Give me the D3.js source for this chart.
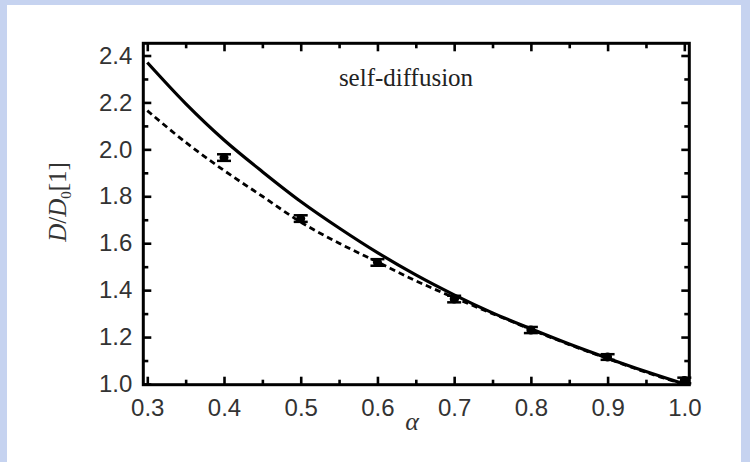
<!DOCTYPE html>
<html><head><meta charset="utf-8">
<script src="https://cdn.jsdelivr.net/npm/d3@7"></script>
<style>html,body{margin:0;padding:0;background:#c4d2f0;}svg{display:block;}</style>
</head><body>
<svg id="chart" width="750" height="462"></svg>
<script>
// Data
const alphaPts = [0.4, 0.5, 0.6, 0.7, 0.8, 0.9, 1.0];
const simValues = [1.965, 1.705, 1.518, 1.362, 1.230, 1.115, 1.015];
const simErrors = [0.014, 0.014, 0.014, 0.014, 0.013, 0.012, 0.012];
const curveAlpha = [0.30, 0.35, 0.40, 0.45, 0.50, 0.55, 0.60, 0.65, 0.70, 0.75, 0.80, 0.85, 0.90, 0.95, 1.00];
const solidValues = [2.370, 2.195, 2.040, 1.905, 1.778, 1.665, 1.560, 1.465, 1.380, 1.303, 1.235, 1.170, 1.110, 1.053, 1.000];
const dashedValues = [2.165, 2.030, 1.910, 1.800, 1.690, 1.600, 1.520, 1.440, 1.368, 1.300, 1.233, 1.168, 1.108, 1.050, 0.998];
const xTicks = [0.3, 0.4, 0.5, 0.6, 0.7, 0.8, 0.9, 1.0];
const yTicks = [1.0, 1.2, 1.4, 1.6, 1.8, 2.0, 2.2, 2.4];
const xMinor = [0.35, 0.45, 0.55, 0.65, 0.75, 0.85, 0.95];
const yMinor = [1.1, 1.3, 1.5, 1.7, 1.9, 2.1, 2.3];

const svg = d3.select("#chart");
// background
svg.append("rect").attr("x",0).attr("y",0).attr("width",750).attr("height",462).attr("fill","#c6d3f0");
svg.append("rect").attr("x",7).attr("y",5).attr("width",734).attr("height",457).attr("fill","#ffffff");

const x = d3.scaleLinear().domain([0.2948, 1.0065]).range([143.3, 689.3]);
const y = d3.scaleLinear().domain([0.997, 2.452]).range([384.7, 43.3]);
const L = x.range()[0], R = x.range()[1], T = y.range()[1], B = y.range()[0];

const tickFmt = d3.format(".1f");
// bottom axis
svg.append("g").attr("transform",`translate(0,${B})`)
  .call(d3.axisBottom(x).tickValues(xTicks).tickFormat(tickFmt).tickSize(-8).tickPadding(14));
svg.append("g").attr("transform",`translate(0,${B})`)
  .call(d3.axisBottom(x).tickValues(xMinor).tickFormat("").tickSize(-5));
// top axis
svg.append("g").attr("transform",`translate(0,${T})`)
  .call(d3.axisTop(x).tickValues(xTicks).tickFormat("").tickSize(-8));
svg.append("g").attr("transform",`translate(0,${T})`)
  .call(d3.axisTop(x).tickValues(xMinor).tickFormat("").tickSize(-5));
// left axis
svg.append("g").attr("transform",`translate(${L},0)`)
  .call(d3.axisLeft(y).tickValues(yTicks).tickFormat(tickFmt).tickSize(-8).tickPadding(11));
svg.append("g").attr("transform",`translate(${L},0)`)
  .call(d3.axisLeft(y).tickValues(yMinor).tickFormat("").tickSize(-5));
// right axis
svg.append("g").attr("transform",`translate(${R},0)`)
  .call(d3.axisRight(y).tickValues(yTicks).tickFormat("").tickSize(-8));
svg.append("g").attr("transform",`translate(${R},0)`)
  .call(d3.axisRight(y).tickValues(yMinor).tickFormat("").tickSize(-5));

svg.selectAll(".domain").remove();
svg.selectAll(".tick line").attr("stroke","#000").attr("stroke-width",2.6);
svg.selectAll(".tick text").attr("font-family","Liberation Sans, Arial, sans-serif")
  .attr("font-size",24).attr("fill","#333");

// frame
svg.append("rect").attr("x",L).attr("y",T).attr("width",R-L).attr("height",B-T)
  .attr("fill","none").attr("stroke","#000").attr("stroke-width",3);

// curves
const line = d3.line().x(d=>x(d[0])).y(d=>y(d[1])).curve(d3.curveCatmullRom);
svg.append("path").datum(curveAlpha.map((a,i)=>[a,dashedValues[i]]))
  .attr("d",line).attr("fill","none").attr("stroke","#000").attr("stroke-width",2.8)
  .attr("stroke-dasharray","6,4");
svg.append("path").datum(curveAlpha.map((a,i)=>[a,solidValues[i]]))
  .attr("d",line).attr("fill","none").attr("stroke","#000").attr("stroke-width",3.2);

// points with error bars
const pts = svg.append("g");
alphaPts.forEach((a,i)=>{
  const cx = x(a), v = simValues[i], e = simErrors[i];
  pts.append("line").attr("x1",cx).attr("x2",cx).attr("y1",y(v-e)).attr("y2",y(v+e))
    .attr("stroke","#000").attr("stroke-width",2.5);
  [v-e, v+e].forEach(w=>pts.append("line").attr("x1",cx-7).attr("x2",cx+7)
    .attr("y1",y(w)).attr("y2",y(w)).attr("stroke","#000").attr("stroke-width",2.5));
  pts.append("circle").attr("cx",cx).attr("cy",y(v)).attr("r",4.5).attr("fill","#000");
});

// annotation
svg.append("text").attr("x",406).attr("y",86).attr("text-anchor","middle")
  .attr("font-family","Liberation Serif, Times New Roman, serif").attr("font-size",25)
  .attr("fill","#222").text("self-diffusion");

// x label
svg.append("text").attr("x",412).attr("y",430).attr("text-anchor","middle")
  .attr("font-family","Liberation Serif, Times New Roman, serif").attr("font-style","italic")
  .attr("font-size",26).attr("fill","#333").text("α");

// y label
const yl = svg.append("text").attr("transform","translate(66,202) rotate(-90)")
  .attr("text-anchor","middle")
  .attr("font-family","Liberation Serif, Times New Roman, serif").attr("font-size",25).attr("fill","#333");
yl.append("tspan").attr("font-style","italic").text("D");
yl.append("tspan").text("/");
yl.append("tspan").attr("font-style","italic").text("D");
yl.append("tspan").attr("font-size",15).attr("dy",5).text("0");
yl.append("tspan").attr("dy",-5).text("[1]");
</script>
</body></html>
